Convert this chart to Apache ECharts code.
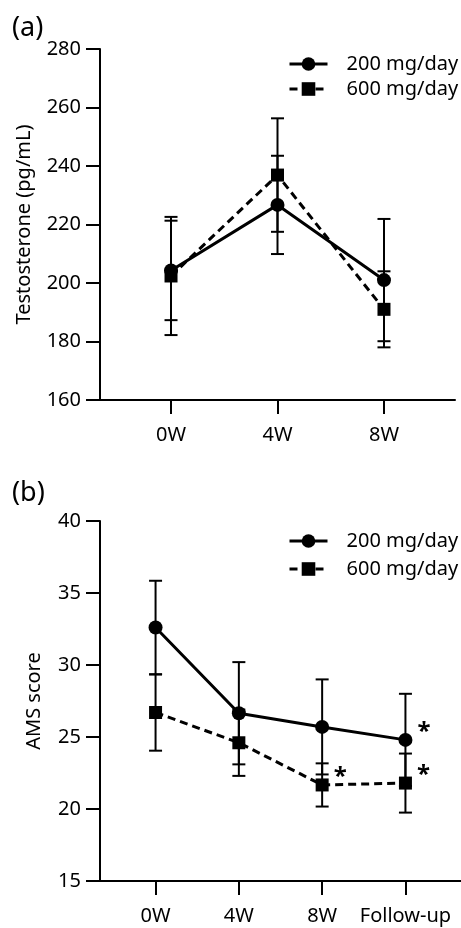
<!DOCTYPE html>
<html><head><meta charset="utf-8">
<script src="https://cdn.jsdelivr.net/npm/echarts@6/dist/echarts.min.js"></script>
<style>html,body{margin:0;padding:0;background:#fff}#c{width:461px;height:928px}</style>
</head><body><div id="c"></div>
<script>
// ---- data ----
const catsA = ['0W', '4W', '8W'];
const catsB = ['0W', '4W', '8W', 'Follow-up'];
const seriesNames = ['200 mg/day', '600 mg/day'];
const testo200 = [204.3, 226.7, 201.0];
const testo200sd = [17.0, 16.8, 20.9];
const testo600 = [202.4, 236.9, 191.0];
const testo600sd = [20.2, 19.4, 13.0];
const ams200 = [32.6, 26.65, 25.7, 24.8];
const ams200sd = [3.25, 3.55, 3.3, 3.2];
const ams600 = [26.7, 24.6, 21.67, 21.8];
const ams600sd = [2.65, 2.3, 1.5, 2.05];
const sig200 = ['', '', '', '*'];
const sig600 = ['', '', '*', '*'];
const yRangeA = [160, 280, 20];
const yRangeB = [15, 40, 5];
const panelLabels = ['(a)', '(b)'];
const yNames = ['Testosterone (pg/mL)', 'AMS score'];

// ---- build ----
const FONT = 'Noto Sans';
const pts = (vals) => vals.map((v, i) => [i + 1, v]);
const errData = (vals, sd) => vals.map((v, i) => [i + 1, v - sd[i], v + sd[i]]);

function errSeries(name, vals, sd, gi) {
  return {
    type: 'custom', name: name + ' err', xAxisIndex: gi, yAxisIndex: gi, z: 1,
    data: errData(vals, sd), silent: true,
    renderItem: function (params, api) {
      const x = api.value(0);
      const lo = api.coord([x, api.value(1)]);
      const hi = api.coord([x, api.value(2)]);
      const w = 6.5;
      const st = { stroke: '#000', lineWidth: 2 };
      return { type: 'group', children: [
        { type: 'line', shape: { x1: lo[0], y1: lo[1], x2: hi[0], y2: hi[1] }, style: st },
        { type: 'line', shape: { x1: lo[0] - w, y1: lo[1], x2: lo[0] + w, y2: lo[1] }, style: st },
        { type: 'line', shape: { x1: hi[0] - w, y1: hi[1], x2: hi[0] + w, y2: hi[1] }, style: st }
      ] };
    }
  };
}

function lineSeries(name, vals, gi, dashed, symbol, sig) {
  return {
    type: 'line', name: name, xAxisIndex: gi, yAxisIndex: gi, z: 3,
    data: pts(vals), symbol: symbol, symbolSize: symbol === 'circle' ? 14 : 13,
    showAllSymbol: true,
    lineStyle: { color: '#000', width: 3, type: dashed ? [8, 5] : 'solid' },
    itemStyle: { color: '#000' },
    label: sig ? {
      show: true, position: 'right', distance: 5, offset: [0, -8],
      formatter: p => sig[p.dataIndex], fontSize: 24, fontWeight: 'bold', color: '#000', fontFamily: FONT
    } : { show: false },
    emphasis: { disabled: true }, animation: false
  };
}

function xAxis(gi, cats) {
  const ticks = cats.map((c, i) => i + 1);
  return {
    type: 'value', gridIndex: gi, min: 1 - 0.667, max: cats.length + 0.667,
    axisLine: { show: true, lineStyle: { color: '#000', width: 2 } },
    axisTick: { show: true, customValues: ticks, length: 14, lineStyle: { color: '#000', width: 2 } },
    axisLabel: { customValues: ticks, formatter: v => cats[Math.round(v) - 1] || '', margin: 25,
      fontSize: 20, color: '#000', fontFamily: FONT },
    splitLine: { show: false }
  };
}

function yAxis(gi, r, name, gap) {
  return {
    type: 'value', gridIndex: gi, min: r[0], max: r[1], interval: r[2],
    name: name, nameLocation: 'middle', nameGap: gap,
    nameTextStyle: { fontSize: 20, color: '#000', fontFamily: FONT },
    axisLine: { show: true, lineStyle: { color: '#000', width: 2 } },
    axisTick: { show: true, length: 14, lineStyle: { color: '#000', width: 2 } },
    axisLabel: { margin: 19, fontSize: 20, color: '#000', fontFamily: FONT },
    splitLine: { show: false }
  };
}

function legend(top, gap) {
  return {
    orient: 'vertical', left: 283, top: top, itemWidth: 38, itemHeight: 17, itemGap: gap,
    data: seriesNames, selectedMode: false,
    lineStyle: { width: 3 },
    textStyle: { fontSize: 20, color: '#000', fontFamily: FONT, padding: [0, 0, 0, 14] }
  };
}

const chart = echarts.init(document.getElementById('c'), null, { renderer: 'canvas' });
chart.setOption({
  animation: false,
  backgroundColor: '#fff',
  title: [
    { text: panelLabels[0], left: 7, top: 10, textStyle: { fontSize: 27, fontWeight: 'normal', color: '#000', fontFamily: FONT } },
    { text: panelLabels[1], left: 7, top: 475, textStyle: { fontSize: 27, fontWeight: 'normal', color: '#000', fontFamily: FONT } }
  ],
  legend: [legend(49, 5), legend(526, 8)],
  grid: [
    { left: 100, right: 6, top: 49, height: 351 },
    { left: 100, right: 0, top: 521, height: 360 }
  ],
  xAxis: [xAxis(0, catsA), xAxis(1, catsB)],
  yAxis: [yAxis(0, yRangeA, yNames[0], 66), yAxis(1, yRangeB, yNames[1], 56)],
  series: [
    errSeries(seriesNames[0], testo200, testo200sd, 0),
    errSeries(seriesNames[1], testo600, testo600sd, 0),
    lineSeries(seriesNames[1], testo600, 0, true, 'rect', null),
    lineSeries(seriesNames[0], testo200, 0, false, 'circle', null),
    errSeries(seriesNames[0], ams200, ams200sd, 1),
    errSeries(seriesNames[1], ams600, ams600sd, 1),
    lineSeries(seriesNames[0], ams200, 1, false, 'circle', sig200),
    lineSeries(seriesNames[1], ams600, 1, true, 'rect', sig600)
  ]
});
</script></body></html>
